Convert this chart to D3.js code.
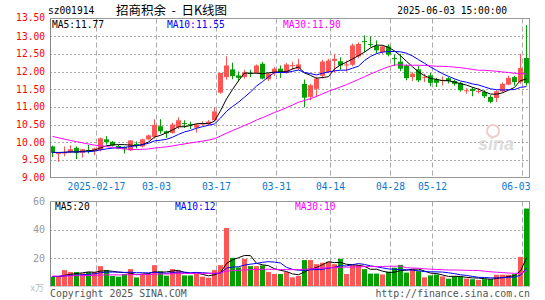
<!DOCTYPE html>
<html><head><meta charset="utf-8">
<script src="https://cdn.jsdelivr.net/npm/d3@7"></script>
<style>body{margin:0;background:#fff} svg{display:block}</style>
</head><body>
<svg id="c" width="545" height="300"></svg>
<script>
const dates = ["02-05","02-06","02-07","02-10","02-11","02-12","02-13","02-14","02-17","02-18","02-19","02-20","02-21","02-24","02-25","02-26","02-27","02-28",
"03-03","03-04","03-05","03-06","03-07","03-10","03-11","03-12","03-13","03-14","03-17","03-18","03-19","03-20","03-21","03-24","03-25","03-26","03-27","03-28","03-31",
"04-01","04-02","04-03","04-07","04-08","04-09","04-10","04-11","04-14","04-15","04-16","04-17","04-18","04-21","04-22","04-23","04-24","04-25","04-28","04-29","04-30",
"05-06","05-07","05-08","05-09","05-12","05-13","05-14","05-15","05-16","05-19","05-20","05-21","05-22","05-23","05-26","05-27","05-28","05-29","05-30","06-03"];
const open = [9.88,9.67,9.68,9.71,9.84,9.70,9.78,9.75,9.78,10.08, 10.01,9.89,9.86,9.77,9.95,9.88,10.08,10.15,10.45,10.31, 10.26,10.43,10.54,10.51,10.41,10.50,10.52,10.62,11.40,11.84, 12.06,11.89,11.84,11.96,11.96,12.22,11.78,11.95,12.08,11.96, 12.17,12.08,11.65,11.28,11.51,11.88,11.98,12.30,12.29,12.18, 12.19,12.43,12.86,12.78,12.72,12.55,12.71,12.38,12.28,12.17, 11.84,12.06,11.83,11.89,11.78,11.74,11.81,11.73,11.67,11.46, 11.51,11.44,11.42,11.28,11.25,11.44,11.63,11.84,11.70,12.38];
const high = [9.90,9.71,9.88,9.91,9.88,9.81,9.92,9.85,10.13,10.17, 10.03,9.92,9.88,10.06,10.02,10.10,10.22,10.65,10.65,10.33, 10.55,10.70,10.62,10.58,10.52,10.59,10.63,10.98,11.96,12.43, 12.25,12.00,12.05,12.05,12.20,12.27,11.96,12.13,12.17,12.24, 12.27,12.36,11.77,11.65,11.85,12.33,12.36,12.50,12.40,12.31, 12.79,12.82,13.02,12.99,12.88,12.74,12.77,12.48,12.50,12.20, 11.98,12.15,11.94,11.96,11.82,11.86,11.84,11.77,11.70,11.53, 11.55,11.53,11.47,11.33,11.47,11.69,11.88,11.88,12.50,13.31];
const low = [9.58,9.44,9.60,9.69,9.52,9.56,9.68,9.63,9.74,9.93, 9.88,9.80,9.68,9.75,9.82,9.85,10.05,10.10,10.24,10.12, 10.24,10.37,10.40,10.37,10.27,10.47,10.48,10.60,11.37,11.77, 11.78,11.72,11.80,11.84,11.94,11.78,11.73,11.88,11.82,11.94, 12.05,12.05,10.99,11.18,11.28,11.80,11.95,11.97,12.05,12.00, 12.15,12.38,12.55,12.69,12.52,12.50,12.43,12.15,12.01,11.75, 11.73,11.70,11.70,11.58,11.56,11.61,11.66,11.60,11.43,11.37, 11.30,11.38,11.25,11.10,11.14,11.40,11.61,11.60,11.65,11.60];
const close = [9.70,9.69,9.72,9.80,9.70,9.80,9.76,9.82,10.11,10.00, 9.91,9.82,9.81,10.05,9.90,10.08,10.19,10.49,10.31,10.25, 10.50,10.62,10.51,10.48,10.50,10.54,10.58,10.87,11.96,12.17, 11.87,11.82,11.97,11.93,12.17,11.80,11.94,12.08,11.96,12.20, 12.18,12.20,11.26,11.61,11.80,12.28,12.31,12.36,12.17,12.20, 12.74,12.78,12.85,12.77,12.60,12.71,12.48,12.36,12.08,11.81, 11.94,11.75,11.84,11.68,11.68,11.76,11.73,11.65,11.47,11.47, 11.45,11.45,11.30,11.14,11.44,11.65,11.82,11.70,12.10,11.67];
const volume = [6.6,6.6,11.3,9.9,9.9,9.0,9.9,9.9,14.1,11.3, 7.1,6.6,8.5,12.0,6.1,8.7,8.7,14.8,10.5,7.3, 12.0,10.8,7.5,7.5,8.7,6.6,5.9,11.3,14.8,41.2, 20.0,13.2,19.3,14.1,14.1,14.6,9.9,8.5,8.5,9.9, 6.1,7.1,18.4,18.4,15.5,16.5,17.2,15.5,19.3,8.5, 15.0,15.0,12.0,8.8,8.8,8.2,10.2,13.0,15.0,9.5, 12.0,10.5,6.2,7.5,8.2,6.8,5.2,6.8,6.8,5.3, 4.8,4.3,4.8,4.8,8.0,8.0,8.0,8.4,20.7,55.0];
// closes / volumes of the 29 sessions before the window (estimated so the averages start where the picture shows)
const preCloses = [10.92,10.85,10.88,10.76,10.80,10.72,10.78,10.66,10.70,10.62,10.55,10.48,10.30,10.05,9.90,9.82,9.76,9.80,9.72,9.68,9.75,9.70,9.66,9.72,9.78,9.70,9.68,9.74,9.72];
const preVolumes = [7.5,8.2,6.8,7.0,9.1,6.5,7.2,8.0,6.9,7.4,6.2,7.8,6.6,7.1,8.5,6.4,7.0,6.8,7.6,6.3,7.2,6.9,5.8,7.4,6.7,6.2,7.1,6.5,7.0];
const priceTicks = [9.00,9.50,10.00,10.50,11.00,11.50,12.00,12.50,13.00];
const volTicks = [20,40,60];
const dateTicks = ["02-17","03-03","03-17","03-31","04-14","04-28","05-12","06-03"];
const dateTickLabels = ["2025-02-17","03-03","03-17","03-31","04-14","04-28","05-12","06-03"];
const maPeriods = [5,10,30];
const maColors = ["#000000","#0000ff","#ff00ff"];
const priceLegend = ["MA5:11.77","MA10:11.55","MA30:11.90"];
const volLegend = ["MA5:20","MA10:12","MA30:10"];

const RED = "#ff5555", GREEN = "#00a000";
const MONO = "'DejaVu Sans Mono', monospace";
const svg = d3.select("#c");

const L = 50, R = 530;
const x = d3.scaleBand().domain(dates).range([L, R]);
const y = d3.scaleLinear().domain([9, 13.5]).range([177.5, 18.5]);
const vy = d3.scaleLinear().domain([0, 60]).range([286, 201.5]);

function movingAvg(pre, arr, n) {
  const all = pre.concat(arr);
  return arr.map((_, i) => { const e = pre.length + i; return d3.mean(all.slice(e - n + 1, e + 1)); });
}
const idx = d3.range(dates.length);
const cx = i => x(dates[i]) + 2.5;

// header
svg.append("text").attr("x", 48).attr("y", 14).attr("font-family", MONO).attr("font-size", 9.6).text("sz001914");
svg.append("text").attr("x", 116).attr("y", 14.5).attr("font-family", "'Noto Sans CJK SC'").attr("font-size", 12.5).attr("xml:space", "preserve").text("招商积余  -  日K线图");
svg.append("text").attr("x", 507).attr("y", 14).attr("text-anchor", "end").attr("font-family", MONO).attr("font-size", 9.6).text("2025-06-03 15:00:00");

// ---------- price panel ----------
const gP = svg.append("g");
gP.selectAll(".hg").data(priceTicks.filter(v => v > 9)).join("line")
  .attr("x1", L).attr("x2", R).attr("y1", d => Math.round(y(d)) + 0.5).attr("y2", d => Math.round(y(d)) + 0.5)
  .attr("stroke", "#aaa").attr("stroke-dasharray", "2,2");
gP.selectAll(".vg").data(dateTicks).join("line")
  .attr("x1", d => x(d) - 1.5).attr("x2", d => x(d) - 1.5).attr("y1", 18.5).attr("y2", 177.5)
  .attr("stroke", "#aaa").attr("stroke-dasharray", "5,3");
// watermark
gP.append("circle").attr("cx", 493).attr("cy", 131).attr("r", 6).attr("fill", "none").attr("stroke", "#ecc").attr("stroke-width", 2);
gP.append("text").attr("x", 478).attr("y", 150).attr("font-family", "Liberation Sans").attr("font-style", "italic").attr("font-weight", "bold").attr("font-size", 18).attr("fill", "#ddd").text("sina");
gP.append("rect").attr("x", L + 0.5).attr("y", 18.5).attr("width", R - L - 1).attr("height", 159).attr("fill", "none").attr("stroke", "#999");
const yAxis = d3.axisLeft(y).tickValues(priceTicks).tickSize(0).tickPadding(5).tickFormat(d3.format(".2f"));
const ga = svg.append("g").attr("transform", `translate(${L},0)`).call(yAxis);
ga.select(".domain").attr("stroke", "#888");
ga.selectAll("text").attr("fill", "#ff0000").attr("font-family", MONO).attr("font-size", 9.6);
svg.append("text").attr("x", 45).attr("y", 21).attr("text-anchor", "end").attr("fill", "#ff0000").attr("font-family", MONO).attr("font-size", 9.6).text("13.50");

// candles
const cg = gP.append("g");
cg.selectAll(".wick").data(idx).join("line")
  .attr("x1", cx).attr("x2", cx).attr("y1", i => y(high[i])).attr("y2", i => y(low[i]))
  .attr("stroke", i => close[i] > open[i] ? RED : GREEN).attr("stroke-width", 1);
cg.selectAll(".body").data(idx).join("rect")
  .attr("x", i => x(dates[i])).attr("width", 5)
  .attr("y", i => y(Math.max(open[i], close[i])))
  .attr("height", i => Math.max(1, Math.abs(y(open[i]) - y(close[i]))))
  .attr("fill", i => close[i] > open[i] ? RED : GREEN);

maPeriods.forEach((n, k) => {
  const m = movingAvg(preCloses, close, n);
  gP.append("path").datum(idx).attr("fill", "none").attr("stroke", maColors[k]).attr("stroke-width", 1)
    .attr("d", d3.line().x(cx).y(i => y(m[i])));
});
[52, 167, 283].forEach((px, k) => {
  svg.append("text").attr("x", px).attr("y", 27.5).attr("fill", maColors[k]).attr("font-family", MONO).attr("font-size", 9.6).text(priceLegend[k]);
});
svg.selectAll(".dl").data(dateTicks).join("text")
  .attr("x", (d, i) => Math.min(x(d) - 1.5, 516)).attr("y", 190).attr("text-anchor", "middle")
  .attr("fill", "#0a78d0").attr("font-family", MONO).attr("font-size", 9.6)
  .text((d, i) => dateTickLabels[i]);

// ---------- volume panel ----------
const gV = svg.append("g");
gV.selectAll(".vhg").data(volTicks.filter(v => v < 60)).join("line")
  .attr("x1", L).attr("x2", R).attr("y1", d => Math.round(vy(d)) + 0.5).attr("y2", d => Math.round(vy(d)) + 0.5)
  .attr("stroke", "#aaa").attr("stroke-dasharray", "2,2");
gV.selectAll(".vvg").data(dateTicks).join("line")
  .attr("x1", d => x(d) - 1.5).attr("x2", d => x(d) - 1.5).attr("y1", 201.5).attr("y2", 286)
  .attr("stroke", "#aaa").attr("stroke-dasharray", "5,3");
gV.append("rect").attr("x", L + 0.5).attr("y", 201.5).attr("width", R - L - 1).attr("height", 84.5).attr("fill", "none").attr("stroke", "#999");
const vAxis = d3.axisLeft(vy).tickValues(volTicks).tickSize(0).tickPadding(5);
const gva = svg.append("g").attr("transform", `translate(${L},0)`).call(vAxis);
gva.select(".domain").attr("stroke", "#888");
gva.selectAll("text").attr("fill", "#999").attr("font-family", MONO).attr("font-size", 10);
svg.append("text").attr("x", 44).attr("y", 291).attr("text-anchor", "end").attr("fill", "#bbb").attr("font-family", "'Noto Sans CJK SC'").attr("font-size", 9).text("x万");

gV.selectAll(".vb").data(idx).join("rect")
  .attr("x", i => x(dates[i])).attr("width", 5)
  .attr("y", i => vy(volume[i])).attr("height", i => vy(0) - vy(volume[i]))
  .attr("fill", i => close[i] > open[i] ? RED : GREEN);
maPeriods.forEach((n, k) => {
  const m = movingAvg(preVolumes, volume, n);
  gV.append("path").datum(idx).attr("fill", "none").attr("stroke", maColors[k]).attr("stroke-width", 1)
    .attr("d", d3.line().x(cx).y(i => vy(m[i])));
});
[55, 175, 295].forEach((px, k) => {
  svg.append("text").attr("x", px).attr("y", 210).attr("fill", maColors[k]).attr("font-family", MONO).attr("font-size", 9.6).text(volLegend[k]);
});

svg.append("text").attr("x", 50).attr("y", 297).attr("fill", "#555").attr("font-family", MONO).attr("font-size", 9.9).text("Copyright 2025 SINA.COM");
svg.append("text").attr("x", 530).attr("y", 297).attr("text-anchor", "end").attr("fill", "#555").attr("font-family", MONO).attr("font-size", 9.9).text("http://finance.sina.com.cn");
</script>
</body></html>
